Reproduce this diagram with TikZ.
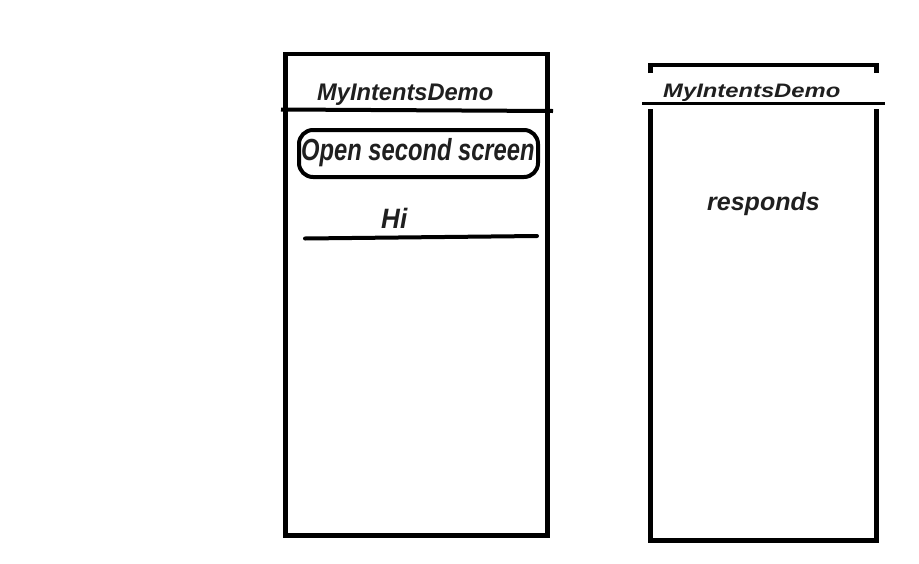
\documentclass[tikz,border=0pt]{standalone}
\usepackage{fontspec}
\setmainfont{Liberation Sans}
\usetikzlibrary{positioning}

\begin{document}
\begin{tikzpicture}[x=1pt,y=-1pt,
  frame/.style={line width=4.6pt},
  uitext/.style={inner sep=0pt, anchor=base west, text=black!88}]
  \useasboundingbox (0,0) rectangle (919,563);

  % 第一個畫面
  \draw[frame] (285.5,54) rectangle (547.5,535.5);
  \draw[line width=4pt] (281,109.5) -- (553,111);
  \node[uitext, font=\fontsize{24}{26}\selectfont\bfseries\itshape] (titleA) at (317,100) {\scalebox{0.985}[1]{MyIntentsDemo}};

  % 按鈕
  \draw[line width=4pt, rounded corners=14pt] (299,130) rectangle (538,177);
  \node[uitext, font=\fontsize{30.5}{32}\selectfont\bfseries\itshape] (openbtn) at (301,160) {\scalebox{0.778}[1]{Open second screen}};

  % 輸入欄
  \node[uitext, font=\fontsize{28}{30}\selectfont\bfseries\itshape] (hitext) at (381,228) {\scalebox{0.93}[1]{Hi}};
  \draw[line width=4pt, line cap=round] (305,238.5) -- (537,236);

  % 第二個畫面
  \draw[frame] (650.5,73) -- (650.5,65) -- (876.5,65) -- (876.5,73);
  \draw[line width=3pt] (642,103) -- (885,103);
  \draw[frame] (650.5,109) -- (650.5,540.5) -- (876.5,540.5) -- (876.5,109);
  \node[uitext, font=\fontsize{19.5}{21}\selectfont\bfseries\itshape] (titleB) at (663,97) {\scalebox{1.22}[1]{MyIntentsDemo}};
  \node[uitext, font=\fontsize{25}{27}\selectfont\bfseries\itshape] (reply) at (707,210) {responds};
\end{tikzpicture}
\end{document}
